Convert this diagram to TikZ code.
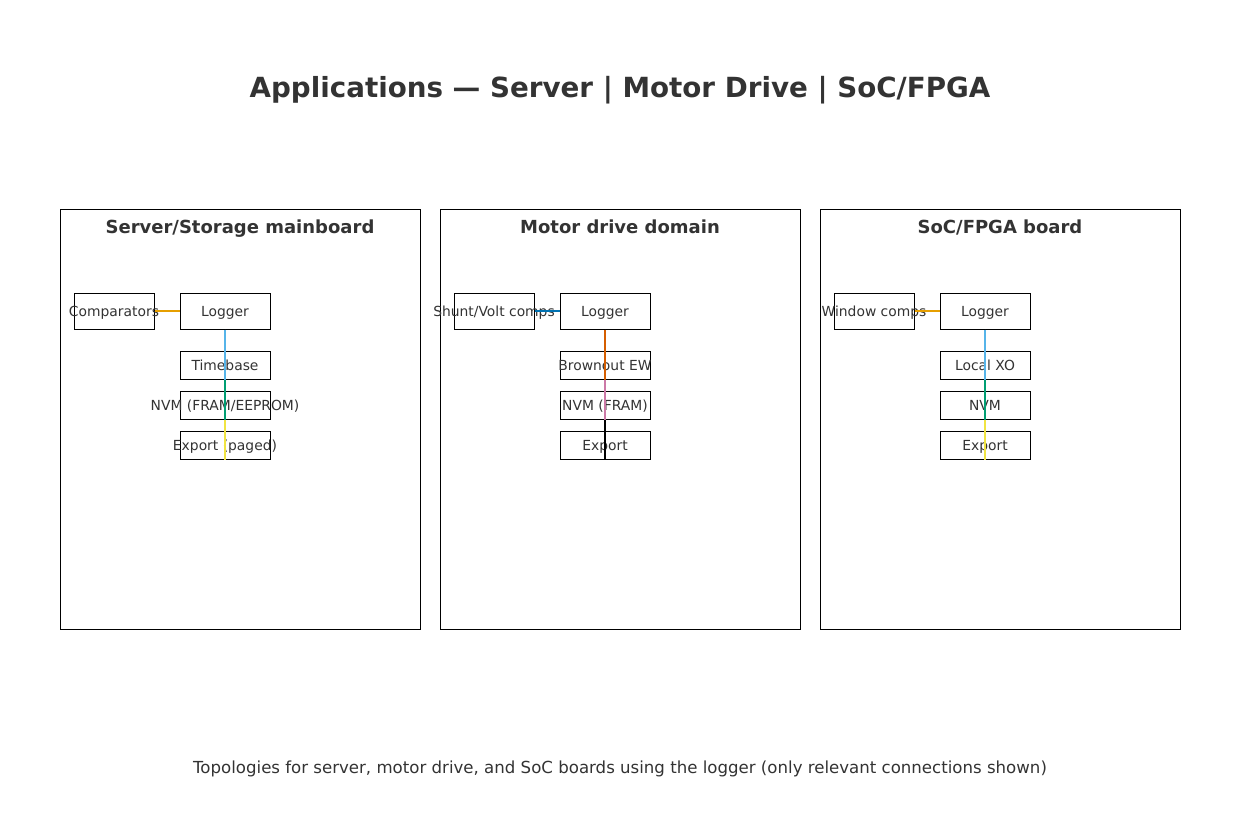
\documentclass[tikz,border=0pt]{standalone}
\usepackage{fontspec}
\setmainfont{DejaVu Sans}
\definecolor{txt}{HTML}{333333}
\definecolor{cOr}{HTML}{E69F00}
\definecolor{cSky}{HTML}{56B4E9}
\definecolor{cGr}{HTML}{009E73}
\definecolor{cYe}{HTML}{F0E442}
\definecolor{cBl}{HTML}{0072B2}
\definecolor{cVe}{HTML}{D55E00}
\definecolor{cPu}{HTML}{CC79A7}
\newcommand{\ov}[1]{\makebox[0pt][c]{#1}}
\begin{document}
\begin{tikzpicture}[x=0.75pt,y=-0.75pt,
  panel/.style={draw=black,line width=0.75pt},
  ptitle/.style={font=\fontsize{13.5}{15}\selectfont\bfseries,text=txt,anchor=base},
  blk/.style={draw=black,line width=0.75pt,minimum width=67.5pt,inner sep=0pt,text height=7.6pt,text depth=0pt,font=\fontsize{10.4}{12}\selectfont,text=txt},
  sblk/.style={blk,minimum height=21pt},
  lblk/.style={blk,minimum height=27pt},
  cmp/.style={blk,minimum width=60pt,minimum height=27pt},
  wire/.style={line width=0.9pt}]
\useasboundingbox (0,0) rectangle (1239,839);
\fill[white] (0,0) rectangle (1239,839);
\node[font=\fontsize{20.8}{24}\selectfont\bfseries,text=txt,anchor=base] (title) at (620,97.5) {Applications — Server | Motor Drive | SoC/FPGA};
% panels
\draw[panel] (60,209) rectangle (420,629);
\draw[panel] (440,209) rectangle (800,629);
\draw[panel] (820,209) rectangle (1180,629);
\node[ptitle] (t1) at (240,233.5) {Server/Storage mainboard};
\node[ptitle] (t2) at (620,233.5) {Motor drive domain};
\node[ptitle] (t3) at (1000,233.5) {SoC/FPGA board};
% panel 1
\node[cmp] (a1) at (114,311) {\ov{Comparators}};
\node[lblk] (l1) at (225,311) {\ov{Logger}};
\node[sblk] (b1) at (225,365) {\ov{Timebase}};
\node[sblk] (n1) at (225,405) {\ov{NVM (FRAM/EEPROM)}};
\node[sblk] (e1) at (225,445) {\ov{Export (paged)}};
\draw[wire,cOr] (a1.east) -- (l1.west);
\draw[wire,cSky] (l1.south) -- (b1.south);
\draw[wire,cGr] (b1.south) -- (n1.south);
\draw[wire,cYe] (n1.south) -- (e1.south);
% panel 2
\node[cmp] (a2) at (494,311) {\ov{Shunt/Volt comps}};
\node[lblk] (l2) at (605,311) {\ov{Logger}};
\node[sblk] (b2) at (605,365) {\ov{Brownout EW}};
\node[sblk] (n2) at (605,405) {\ov{NVM (FRAM)}};
\node[sblk] (e2) at (605,445) {\ov{Export}};
\draw[wire,cBl] (a2.east) -- (l2.west);
\draw[wire,cVe] (l2.south) -- (b2.south);
\draw[wire,cPu] (b2.south) -- (n2.south);
\draw[wire,black] (n2.south) -- (e2.south);
% panel 3
\node[cmp] (a3) at (874,311) {\ov{Window comps}};
\node[lblk] (l3) at (985,311) {\ov{Logger}};
\node[sblk] (b3) at (985,365) {\ov{Local XO}};
\node[sblk] (n3) at (985,405) {\ov{NVM}};
\node[sblk] (e3) at (985,445) {\ov{Export}};
\draw[wire,cOr] (a3.east) -- (l3.west);
\draw[wire,cSky] (l3.south) -- (b3.south);
\draw[wire,cGr] (b3.south) -- (n3.south);
\draw[wire,cYe] (n3.south) -- (e3.south);
\node[font=\fontsize{12.45}{14}\selectfont,text=txt,anchor=base] (cap) at (620,773) {Topologies for server, motor drive, and SoC boards using the logger (only relevant connections shown)};
\end{tikzpicture}
\end{document}
